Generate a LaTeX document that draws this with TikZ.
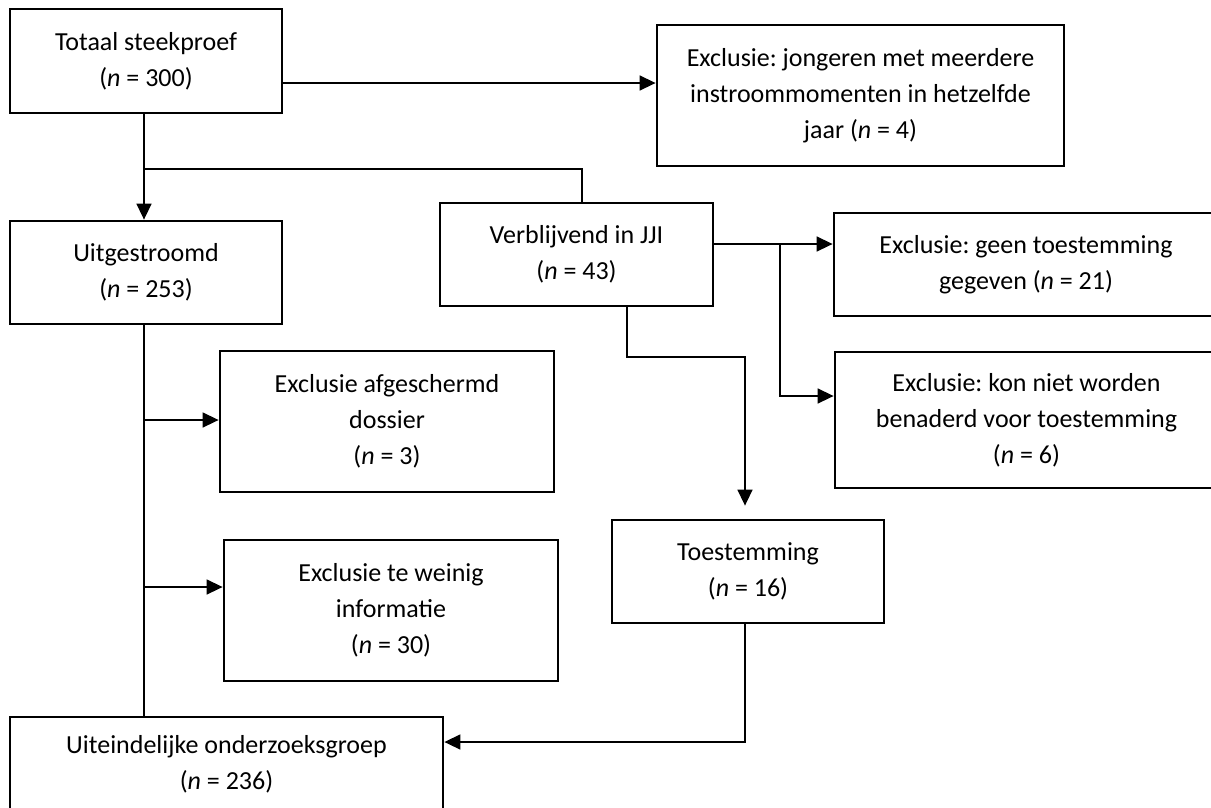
\documentclass[tikz,border=0pt]{standalone}
\usepackage{fontspec}
\setmainfont{Carlito}
\usetikzlibrary{arrows.meta}
\frenchspacing
\begin{document}
\begin{tikzpicture}[x=1pt,y=-1pt,
  box/.style={draw, line width=2.8pt, rectangle, inner sep=0pt, align=center,
              font=\fontsize{26}{36}\selectfont},
  conn/.style={line width=1.5pt},
  arr/.style={conn, -{Triangle[length=16pt,width=15pt]}}]
\useasboundingbox (0,0) rectangle (1211,807);
\fill[white] (0,0) rectangle (1211,807);
\clip (0,0) rectangle (1211,807);

\node[box, minimum width=272pt, minimum height=104pt] (tot) at (146,61) {Totaal steekproef\\(\textit{n} = 300)};
\node[box, minimum width=407pt, minimum height=141pt] (ex1) at (860.5,95.5) {Exclusie: jongeren met meerdere\\instroommomenten in hetzelfde\\jaar (\textit{n} = 4)};
\node[box, minimum width=272pt, minimum height=103pt] (uit) at (146,272.5) {Uitgestroomd\\(\textit{n} = 253)};
\node[box, minimum width=273pt, minimum height=103pt] (vb) at (576.5,254.5) {Verblijvend in JJI\\(\textit{n} = 43)};
\node[box, minimum width=384pt, minimum height=103pt] (ex2) at (1026,264.5) {Exclusie: geen toestemming\\gegeven (\textit{n} = 21)};
\node[box, minimum width=383pt, minimum height=136pt] (ex3) at (1026.5,420) {Exclusie: kon niet worden\\benaderd voor toestemming\\(\textit{n} = 6)};
\node[box, minimum width=334pt, minimum height=141pt] (ex4) at (387,421.5) {Exclusie afgeschermd\\dossier\\(\textit{n} = 3)};
\node[box, minimum width=334pt, minimum height=141pt] (ex5) at (391,610.5) {Exclusie te weinig\\informatie\\(\textit{n} = 30)};
\node[box, minimum width=272pt, minimum height=103pt] (toe) at (748,571.5) {Toestemming\\(\textit{n} = 16)};
\node[box, minimum width=433pt, minimum height=95pt] (fin) at (226.5,764.5) {Uiteindelijke onderzoeksgroep\\(\textit{n} = 236)};

\coordinate (yA) at (0,83);
\coordinate (xS) at (144,0);
\coordinate (br) at (144,169);
\coordinate (vbin) at (582,169);
\coordinate (yB) at (0,244);
\coordinate (j5) at (780,244);
\coordinate (yC) at (0,396);
\coordinate (j6a) at (627,357);
\coordinate (j6b) at (745,357);
\coordinate (yD) at (0,420);
\coordinate (yE) at (0,587);
\coordinate (xT) at (745,0);
\coordinate (yF) at (0,742);

\draw[arr] (tot.east |- yA) -- (ex1.west |- yA);
\draw[arr] (xS |- tot.south) -- (xS |- uit.north);
\draw[conn] (br) -- (vbin) -- (vbin |- vb.north);
\draw[arr] (vb.east |- yB) -- (ex2.west |- yB);
\draw[arr] (j5) |- (ex3.west |- yC);
\draw[arr, shorten >=13pt] (j6a |- vb.south) -- (j6a) -- (j6b) -- (j6b |- toe.north);
\draw[conn] (xS |- uit.south) -- (xS |- fin.north);
\draw[arr] (xS |- yD) -- (ex4.west |- yD);
\draw[arr] (xS |- yE) -- (ex5.west |- yE);
\draw[arr] (xT |- toe.south) |- (fin.east |- yF);
\end{tikzpicture}
\end{document}
